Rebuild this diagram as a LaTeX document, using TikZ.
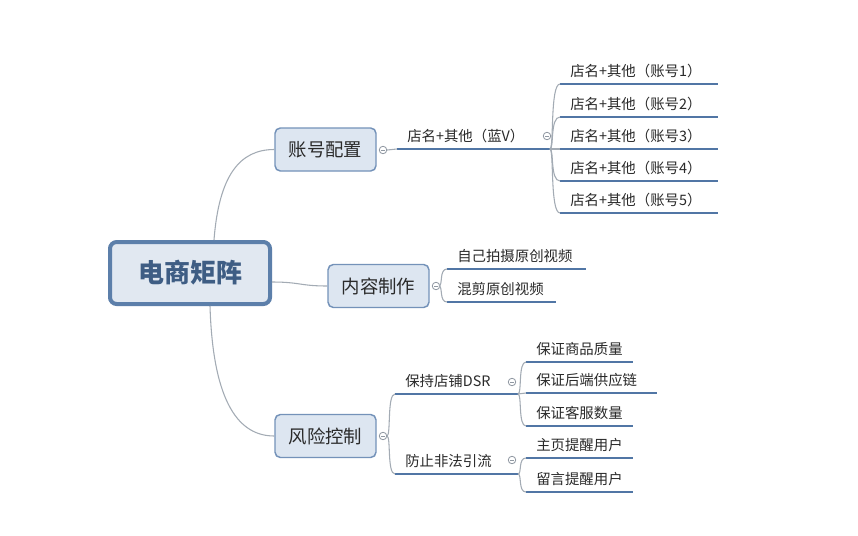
\documentclass[tikz,border=0pt]{standalone}
\usepackage{fontspec}
\newfontfamily\cjk{Noto Sans CJK SC}
\usetikzlibrary{calc}
\definecolor{ulblue}{HTML}{5176A5}
\definecolor{curvegray}{HTML}{A3ABB4}
\definecolor{boxfill}{HTML}{DDE6F1}
\definecolor{boxline}{HTML}{7492B9}
\definecolor{rootline}{HTML}{5C7FAA}
\definecolor{rootfill}{HTML}{E1E8F1}
\definecolor{roottext}{HTML}{3E5D84}
\definecolor{txt}{HTML}{2A2A2A}
\definecolor{knob}{HTML}{9098A2}
\tikzset{
  rootbox/.style={draw=rootline, line width=3pt, fill=rootfill, rounded corners=5pt,
    minimum width=164*0.75pt-3pt, minimum height=66*0.75pt-3pt, inner sep=0pt,
    font=\cjk\bfseries\fontsize{19.5}{22}\selectfont, text=roottext},
  lvlbox/.style={draw=boxline, line width=1.1pt, fill=boxfill, rounded corners=4pt,
    minimum width=101*0.75pt, minimum height=43*0.75pt, inner sep=0pt,
    font=\cjk\fontsize{13.8}{16}\selectfont, text=txt},
  lbl/.style={inner sep=0pt, font=\cjk\fontsize{10.8}{13}\selectfont, text=txt},
  uline/.style={draw=ulblue, line width=2pt},
  curve/.style={draw=curvegray, line width=0.8pt},
  knobc/.style={circle, draw=knob, fill=white, line width=0.6pt, minimum size=7.5*0.75pt, inner sep=0pt,
    path picture={\draw[knob, line width=0.5pt] ($(path picture bounding box.center)+(-1.5pt,0)$) -- ($(path picture bounding box.center)+(1.5pt,0)$);}},
}
\newcommand\utopic[5]{%
  \node[lbl, anchor=base west] (#1) at (#2+10, #3-7.5) {#5};
  \coordinate (#1-s) at (#2,#3);
  \coordinate (#1-e) at (#2+#4,#3);
  \draw[uline] (#1-s) -- (#1-e);
}
\newcommand\brk[2]{% from coordinate #1 to coordinate #2
  \draw[curve] (#1) .. controls ($(#1)+(4,0)$) and (#1 |- #2) .. (#2);
}
\begin{document}
\begin{tikzpicture}[x=0.75pt, y=-0.75pt]
\useasboundingbox (0,0) rectangle (858,536);
\fill[white] (0,0) rectangle (858,536);

% root
\node[rootbox] (root) at (190,273) {电商矩阵};

% level 1
\node[lvlbox] (zh) at (325.5,149.5) {账号配置};
\node[lvlbox] (nr) at (378.5,286) {内容制作};
\node[lvlbox] (fx) at (325.5,436) {风险控制};

% root connectors
\draw[curve] ($(root.north)+(24,0)$) .. controls (219,175) and (240,149.5) .. (zh.west);
\draw[curve] ($(root.east)+(0,9)$) .. controls (300,282) and (300,286) .. (nr.west);
\draw[curve] ($(root.south)+(20,0)$) .. controls (213,405) and (240,436) .. (fx.west);

% knobs level 1
\node[knobc] (kzh) at (383,150) {};
\node[knobc] (knr) at (436,286) {};
\node[knobc] (kfx) at (383,436) {};

% 账号配置 branch
\utopic{lanv}{397}{149}{153}{店名+其他（蓝V）}
\draw[curve] (kzh.east) -- (lanv-s);
\node[knobc] (klanv) at (547,136) {};
\coordinate (bz) at (550,149);
\utopic{a1}{560}{84}{158}{店名+其他（账号1）}
\utopic{a2}{560}{117}{158}{店名+其他（账号2）}
\utopic{a3}{560}{149}{158}{店名+其他（账号3）}
\utopic{a4}{560}{181}{158}{店名+其他（账号4）}
\utopic{a5}{560}{213}{158}{店名+其他（账号5）}
\brk{bz}{a1-s}
\brk{bz}{a2-s}
\draw[curve] (bz) -- (a3-s);
\brk{bz}{a4-s}
\brk{bz}{a5-s}

% 内容制作 branch
\coordinate (bn) at (439,286);
\utopic{c1}{447}{269}{139}{自己拍摄原创视频}
\utopic{c2}{447}{302}{109}{混剪原创视频}
\brk{bn}{c1-s}
\brk{bn}{c2-s}

% 风险控制 branch
\coordinate (bf) at (387,436);
\utopic{dsr}{395}{394}{123}{保持店铺DSR}
\utopic{ff}{395}{474}{123}{防止非法引流}
\brk{bf}{dsr-s}
\brk{bf}{ff-s}
\node[knobc] (kdsr) at (512,382) {};
\node[knobc] (kff) at (512,460) {};

\coordinate (bd) at (518,394);
\utopic{d1}{526}{362}{107}{保证商品质量}
\utopic{d2}{526}{393}{131}{保证后端供应链}
\utopic{d3}{526}{426}{107}{保证客服数量}
\brk{bd}{d1-s}
\draw[curve] (bd) -- (d2-s);
\brk{bd}{d3-s}

\coordinate (bff) at (518,474);
\utopic{e1}{526}{458}{107}{主页提醒用户}
\utopic{e2}{526}{492}{107}{留言提醒用户}
\brk{bff}{e1-s}
\brk{bff}{e2-s}
\end{tikzpicture}
\end{document}
